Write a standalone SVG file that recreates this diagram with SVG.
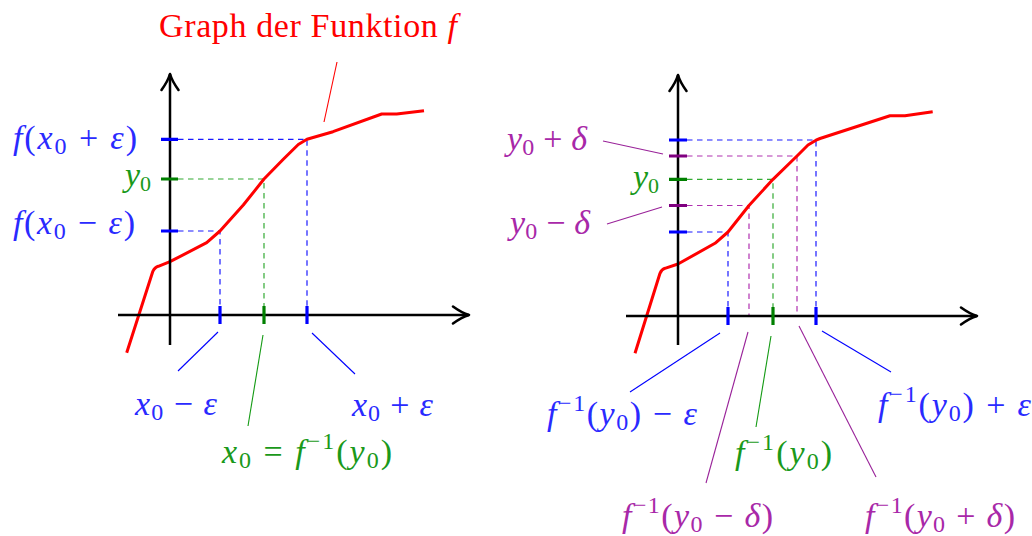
<svg xmlns="http://www.w3.org/2000/svg" width="1032" height="536" viewBox="0 0 1032 536">
<style>
.m{font-family:"Liberation Serif","Times New Roman",serif;font-size:34px}
.i{font-style:italic}
.s{font-size:24px}
.axis{stroke:#000;stroke-width:2.5;fill:none}
.curve{stroke:#ff0000;stroke-width:3;fill:none;stroke-linejoin:round}
.tick{stroke-width:3.2}
.dash{stroke-width:1.2;stroke-dasharray:5.5 4.5;fill:none}
.lbl{stroke-width:1.1}
.cb{fill:#2a2aff}
.cg{fill:#1a991a}
.cp{fill:#a828a8}
</style>
<defs>
<marker id="arr" markerUnits="userSpaceOnUse" markerWidth="22" markerHeight="22" viewBox="-19 -11 22 22" refX="0" refY="0" orient="auto" overflow="visible">
<path d="M-16,-8.5 Q-7,-2 0,0 Q-7,2 -16,8.5" fill="none" stroke="#000" stroke-width="2.6" stroke-linecap="round" stroke-linejoin="round"/>
</marker>
</defs>

<g id="left-plot">
<g id="left-dashed">
<path class="dash" stroke="#1a1aff" d="M178,139.3 H307 V306 M178,231 H220 V306"/>
<path class="dash" stroke="#33aa33" d="M178,179 H264 V306"/>
</g>
<path class="curve" d="M126.7,352.7 L152.7,271.7 Q155,267 158.3,266.3 L170,261.7 L206.7,242.7 L220,231 L243.3,205 L264,179 L283.3,159.3 L298.3,144.5 L307,139.3 L333,131.7 L381.7,114 L396.7,114 L424,110.7"/>
<g id="left-axes">
<line class="axis" x1="118" y1="315" x2="469" y2="315" marker-end="url(#arr)"/>
<line class="axis" x1="170" y1="345" x2="170" y2="74" marker-end="url(#arr)"/>
</g>
<g id="left-ticks">
<path class="tick" stroke="#0000ff" d="M161,139.3 H178 M161,231 H178 M220,306 V324 M307,306 V324"/>
<path class="tick" stroke="#008000" d="M161,179 H178 M264,306 V324"/>
</g>
</g>

<g id="right-plot">
<g id="right-dashed">
<path class="dash" stroke="#1a1aff" d="M687,140 H816 V307 M687,232 H728 V307"/>
<path class="dash" stroke="#b030b0" d="M687,156 H797 V316 M687,205.5 H749 V316"/>
<path class="dash" stroke="#33aa33" d="M687,179.3 H773 V307"/>
</g>
<path class="curve" d="M635,353.3 L660,273.3 Q662,269 665,268.3 L678,264 L715,243.3 L728,232 L749,205.5 L773,179.3 L797,156 L808,145 L816,140.2 L820,138.5 L890,115.7 L905,115.7 L932.7,111.7"/>
<g id="right-axes">
<line class="axis" x1="626" y1="316" x2="977" y2="316" marker-end="url(#arr)"/>
<line class="axis" x1="678" y1="345" x2="678" y2="75" marker-end="url(#arr)"/>
</g>
<g id="right-ticks">
<path class="tick" stroke="#0000ff" d="M669,140 H687 M669,232 H687 M728,307 V325 M816,307 V325"/>
<path class="tick" stroke="#800080" d="M669,156 H687 M669,205.5 H687"/>
<path class="tick" stroke="#008000" d="M669,179.3 H687 M773,307 V325"/>
</g>
</g>

<g id="connectors">
<line class="lbl" stroke="#ff0000" x1="337" y1="62" x2="324" y2="122"/>
<line class="lbl" stroke="#0000ff" x1="218" y1="332" x2="178" y2="371"/>
<line class="lbl" stroke="#119911" x1="263" y1="335" x2="248" y2="426"/>
<line class="lbl" stroke="#0000ff" x1="312" y1="333" x2="355" y2="374"/>
<line class="lbl" stroke="#992299" x1="603" y1="141" x2="663" y2="154"/>
<line class="lbl" stroke="#992299" x1="607" y1="224" x2="662" y2="207"/>
<line class="lbl" stroke="#0000ff" x1="720" y1="333" x2="630" y2="392"/>
<line class="lbl" stroke="#992299" x1="748" y1="332" x2="706" y2="483"/>
<line class="lbl" stroke="#119911" x1="771" y1="336" x2="756" y2="427"/>
<line class="lbl" stroke="#992299" x1="799" y1="326" x2="876" y2="477"/>
<line class="lbl" stroke="#0000ff" x1="822" y1="331" x2="891" y2="372"/>
</g>

<g id="labels">
<text id="title" class="m" x="159" y="37" font-size="34" textLength="298" fill="#ff0000">Graph der Funktion <tspan class="i">f</tspan></text>
<text id="l-fxpe" class="m cb" x="13" y="149" textLength="124"><tspan class="i">f</tspan>(<tspan class="i">x</tspan><tspan class="s" dy="5">0</tspan><tspan dy="-5"> + </tspan><tspan class="i">ε</tspan>)</text>
<text id="l-y0" class="m cg" x="151" y="186" text-anchor="end" font-size="31"><tspan class="i">y</tspan><tspan font-size="22" dy="5">0</tspan></text>
<text id="l-fxme" class="m cb" x="13" y="234" textLength="122"><tspan class="i">f</tspan>(<tspan class="i">x</tspan><tspan class="s" dy="5">0</tspan><tspan dy="-5"> − </tspan><tspan class="i">ε</tspan>)</text>
<text id="l-xme" class="m cb" x="135" y="415" textLength="82"><tspan class="i">x</tspan><tspan class="s" dy="5">0</tspan><tspan dy="-5"> − </tspan><tspan class="i">ε</tspan></text>
<text id="l-xpe" class="m cb" x="352" y="416" textLength="81"><tspan class="i">x</tspan><tspan class="s" dy="5">0</tspan><tspan dy="-5"> + </tspan><tspan class="i">ε</tspan></text>
<text id="l-x0" class="m cg" x="222" y="463" textLength="170"><tspan class="i">x</tspan><tspan class="s" dy="5">0</tspan><tspan dy="-5"> = </tspan><tspan class="i">f</tspan><tspan class="s" dy="-14">−1</tspan><tspan dy="14">(</tspan><tspan class="i">y</tspan><tspan class="s" dy="5">0</tspan><tspan dy="-5">)</tspan></text>

<text id="r-ypd" class="m cp" x="507" y="150" textLength="80"><tspan class="i">y</tspan><tspan class="s" dy="5">0</tspan><tspan dy="-5"> + </tspan><tspan class="i">δ</tspan></text>
<text id="r-y0" class="m cg" x="659" y="188" text-anchor="end" font-size="31"><tspan class="i">y</tspan><tspan font-size="22" dy="5">0</tspan></text>
<text id="r-ymd" class="m cp" x="510" y="233.5" textLength="80"><tspan class="i">y</tspan><tspan class="s" dy="5">0</tspan><tspan dy="-5"> − </tspan><tspan class="i">δ</tspan></text>
<text id="r-fme" class="m cb" x="547" y="425" textLength="150"><tspan class="i">f</tspan><tspan class="s" dy="-14">−1</tspan><tspan dy="14">(</tspan><tspan class="i">y</tspan><tspan class="s" dy="5">0</tspan><tspan dy="-5">) − </tspan><tspan class="i">ε</tspan></text>
<text id="r-fpe" class="m cb" x="878" y="416" textLength="153"><tspan class="i">f</tspan><tspan class="s" dy="-14">−1</tspan><tspan dy="14">(</tspan><tspan class="i">y</tspan><tspan class="s" dy="5">0</tspan><tspan dy="-5">) + </tspan><tspan class="i">ε</tspan></text>
<text id="r-f0" class="m cg" x="735" y="464" textLength="97"><tspan class="i">f</tspan><tspan class="s" dy="-14">−1</tspan><tspan dy="14">(</tspan><tspan class="i">y</tspan><tspan class="s" dy="5">0</tspan><tspan dy="-5">)</tspan></text>
<text id="r-fmd" class="m cp" x="622" y="527" textLength="151"><tspan class="i">f</tspan><tspan class="s" dy="-14">−1</tspan><tspan dy="14">(</tspan><tspan class="i">y</tspan><tspan class="s" dy="5">0</tspan><tspan dy="-5"> − </tspan><tspan class="i">δ</tspan>)</text>
<text id="r-fpd" class="m cp" x="865" y="527" textLength="150"><tspan class="i">f</tspan><tspan class="s" dy="-14">−1</tspan><tspan dy="14">(</tspan><tspan class="i">y</tspan><tspan class="s" dy="5">0</tspan><tspan dy="-5"> + </tspan><tspan class="i">δ</tspan>)</text>
</g>
</svg>
